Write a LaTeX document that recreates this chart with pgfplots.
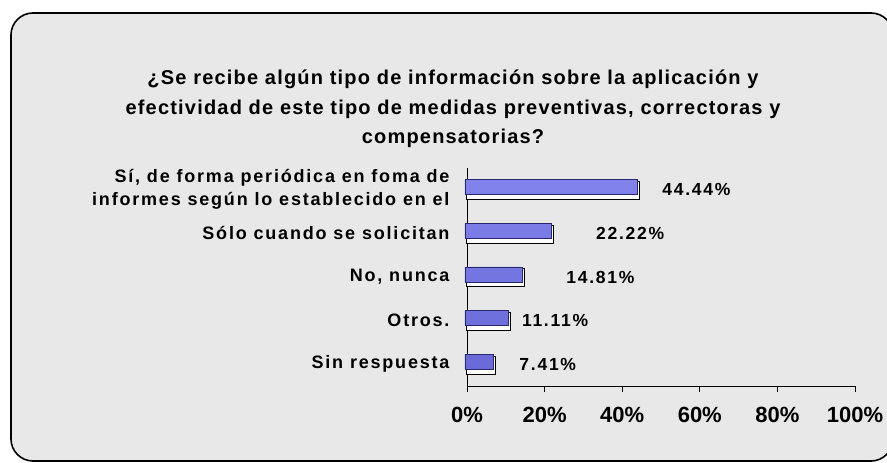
\documentclass[border=0pt]{standalone}
\usepackage{fontspec}
\setmainfont{Liberation Sans}
\newfontfamily\spaced{Liberation Sans}[LetterSpace=10]
\newfontfamily\tspaced{Liberation Sans}[LetterSpace=6]
\usepackage{pgfplots}
\usepackage{pgfplotstable}
\pgfplotsset{compat=1.18}
\definecolor{bartop}{RGB}{130,130,235}
\definecolor{barmid}{RGB}{165,165,255}
\definecolor{barbot}{RGB}{105,105,215}
\definecolor{baredge}{RGB}{40,40,110}
\definecolor{bggray}{RGB}{232,232,232}
\pgfplotstableread{
y x off
0 7.41 54
1 11.11 47
2 14.81 78
3 22.22 79
4 44.44 59
}\datatab
\begin{document}
\begin{tikzpicture}
\path[use as bounding box] (0,0) rectangle (887pt,463pt);
\fill[white] (0,0) rectangle (887pt,463pt);
\draw[line width=1.6pt, fill=bggray, rounded corners=22pt] (11pt,2pt) rectangle (893pt,450pt);
\node[align=center, font=\tspaced\bfseries\fontsize{20}{29.5}\selectfont] at (453pt,354pt)
  {¿Se recibe algún tipo de información sobre la aplicación y\\efectividad de este tipo de medidas preventivas, correctoras y\\compensatorias?};
\begin{axis}[
  at={(467pt,77pt)}, anchor=south west,
  scale only axis, width=388pt, height=218pt,
  xmin=0, xmax=100, ymin=-0.5, ymax=4.5,
  axis lines*=left,
  axis line style={black, line width=0.8pt},
  xtick={0,20,...,100},
  xticklabel={\pgfmathprintnumber{\tick}\%},
  /pgf/number format/assume math mode=true,
  xticklabel style={font=\bfseries\fontsize{22}{26}\selectfont, yshift=-12pt},
  x tick style={black, line width=0.8pt},
  tick align=outside,
  major tick length=6pt,
  ytick={0,1,2,3,4},
  yticklabels={Sin respuesta, Otros., {No, nunca}, Sólo cuando se solicitan, {Sí, de forma periódica en foma de\hspace{9pt}\\informes según lo establecido en el}},
  yticklabel style={font=\spaced\bfseries\fontsize{18}{23}\selectfont, align=right, xshift=-8pt},
  y tick style={draw=none},
  xbar, bar width=18pt,
  clip=false,
]
\addplot[draw=black, fill=white, line width=1pt, bar shift=-1pt] table[x=x, y=y] {\datatab};
\addplot[draw=baredge, line width=0.8pt, top color=bartop, middle color=barmid, bottom color=barbot, bar width=15pt, bar shift=2.5pt, xshift=-2pt,
  visualization depends on={\thisrow{off}\as\myoff},
  point meta=explicit,
  nodes near coords={\pgfmathprintnumber[fixed,precision=2,fixed zerofill]{\pgfplotspointmeta}\%},
  every node near coord/.append style={anchor=center, xshift=\myoff pt, yshift=-2.5pt, font=\spaced\bfseries\fontsize{17.5}{20}\selectfont, black}
] table[x=x, y=y, meta=x] {\datatab};
\end{axis}
\end{tikzpicture}
\end{document}
